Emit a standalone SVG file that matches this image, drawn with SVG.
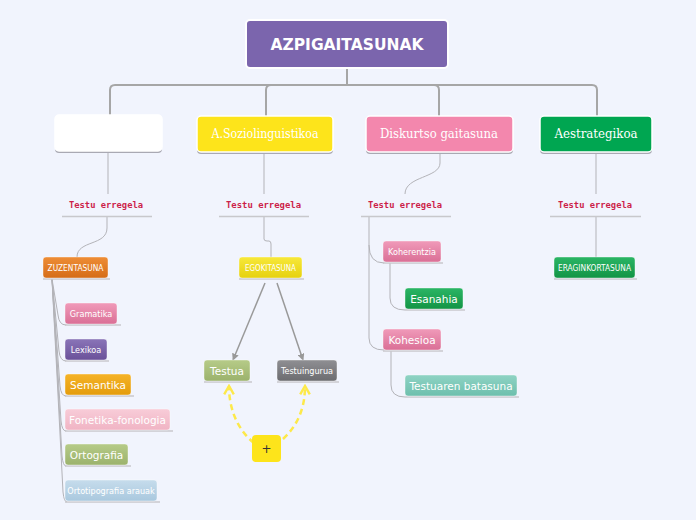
<svg xmlns="http://www.w3.org/2000/svg" width="696" height="520" viewBox="0 0 696 520">
<defs>
<style>
.main{stroke:#fff;stroke-width:1.5}
.shadow{fill:#a9a9b3}
.mt{font-family:"DejaVu Serif",serif;font-size:12px;fill:#fff;text-anchor:middle;font-stretch:condensed}
.lbl{font-family:"DejaVu Sans Mono",monospace;font-size:9px;font-weight:bold;fill:#cc1f4a}
.ul{stroke:#c8c8cc;stroke-width:1.5}
.con{fill:none;stroke:#a6a6a6;stroke-width:2}
.thin{fill:none;stroke:#b3b3b8;stroke-width:1}
.st{font-family:"DejaVu Sans",sans-serif;font-size:10.5px;fill:#fff}
.ct{font-family:"DejaVu Sans Condensed","DejaVu Sans",sans-serif;font-stretch:condensed;font-size:9px;fill:#fff}
.sub{stroke:#fff;stroke-opacity:0.5;stroke-width:0.8}
.dash{fill:none;stroke:#fde94a;stroke-width:2.5;stroke-dasharray:6 4}
</style>
<linearGradient id="gOr" x1="0" y1="0" x2="0" y2="1"><stop offset="0" stop-color="#ee8d36"/><stop offset="1" stop-color="#d56c17"/></linearGradient>
<linearGradient id="gYe" x1="0" y1="0" x2="0" y2="1"><stop offset="0" stop-color="#f7e83a"/><stop offset="1" stop-color="#e6d10f"/></linearGradient>
<linearGradient id="gPk" x1="0" y1="0" x2="0" y2="1"><stop offset="0" stop-color="#f09ab9"/><stop offset="1" stop-color="#da6f96"/></linearGradient>
<linearGradient id="gGr" x1="0" y1="0" x2="0" y2="1"><stop offset="0" stop-color="#2bb565"/><stop offset="1" stop-color="#129445"/></linearGradient>
<linearGradient id="gPu" x1="0" y1="0" x2="0" y2="1"><stop offset="0" stop-color="#8a74b8"/><stop offset="1" stop-color="#6a5199"/></linearGradient>
<linearGradient id="gSe" x1="0" y1="0" x2="0" y2="1"><stop offset="0" stop-color="#f5b328"/><stop offset="1" stop-color="#e49c0c"/></linearGradient>
<linearGradient id="gLp" x1="0" y1="0" x2="0" y2="1"><stop offset="0" stop-color="#f8ccd8"/><stop offset="1" stop-color="#f0b4c4"/></linearGradient>
<linearGradient id="gOl" x1="0" y1="0" x2="0" y2="1"><stop offset="0" stop-color="#b6cb88"/><stop offset="1" stop-color="#9bb26c"/></linearGradient>
<linearGradient id="gLb" x1="0" y1="0" x2="0" y2="1"><stop offset="0" stop-color="#c6dcec"/><stop offset="1" stop-color="#a9c8de"/></linearGradient>
<linearGradient id="gGy" x1="0" y1="0" x2="0" y2="1"><stop offset="0" stop-color="#8f8f93"/><stop offset="1" stop-color="#6c6c70"/></linearGradient>
<linearGradient id="gTe" x1="0" y1="0" x2="0" y2="1"><stop offset="0" stop-color="#8fd3c4"/><stop offset="1" stop-color="#6dbfad"/></linearGradient>
<marker id="ah" viewBox="0 0 10 10" refX="9" refY="5" markerWidth="7" markerHeight="7" orient="auto-start-reverse" markerUnits="userSpaceOnUse"><path d="M0,0 L10,5 L0,10 z" fill="#999"/></marker>
<marker id="ya" viewBox="0 0 10 10" refX="8" refY="5" markerWidth="12" markerHeight="12" orient="auto" markerUnits="userSpaceOnUse"><path d="M1,1 L8,5 L1,9" fill="none" stroke="#fde94a" stroke-width="2"/></marker>
</defs>
<rect width="696" height="520" fill="#f1f4fd"/>

<g id="connectors">
<path class="con" d="M347,68 V85 M110,116 V90 Q110,85 115,85 H592 Q597,85 597,90 V116 M266,116 V90 Q266,85 271,85 H434 Q439,85 439,90 V116"/>
<path class="thin" d="M108,152 V194"/>
<path class="thin" d="M264,152 V194"/>
<path class="thin" d="M440,152 V163 C440,178 405,176 405,194"/>
<path class="thin" d="M596,152 V194"/>
<path class="thin" d="M107,217 V228 C107,246 77,240 77,257"/>
<path class="thin" d="M264,217 V239 Q264,241 267,241 H269 Q271,241 271,244 V257"/>
<path class="thin" d="M596,217 V257"/>
<path class="thin" d="M369,217 V245 Q369,263 384,263"/>
<path class="thin" d="M369,245 V338 Q369,350 384,350"/>
<path class="thin" d="M390,263 V298 Q390,310 405,310"/>
<path class="thin" d="M391,351 V385 Q391,397 405,397"/>
<path class="thin" d="M52,279 L58,315 Q59,325 66,325"/>
<path class="thin" d="M52,279 L59,351 Q60,361 66,361"/>
<path class="thin" d="M52,279 L60,386 Q61,396 66,396"/>
<path class="thin" d="M52,279 L61,421 Q62,431 66,431"/>
<path class="thin" d="M52,279 L62,456 Q63,466 66,466"/>
<path class="thin" d="M52,279 L63,492 Q64,502 67,502"/>
<path d="M265,283 L233,360" fill="none" stroke="#999" stroke-width="1.5" marker-end="url(#ah)"/>
<path d="M277,283 L303,360" fill="none" stroke="#999" stroke-width="1.5" marker-end="url(#ah)"/>
<path class="dash" d="M254,443 C238,430 229,410 229,386" marker-end="url(#ya)"/>
<path class="dash" d="M283,439 C298,425 305,408 305,386" marker-end="url(#ya)"/>
</g>

<g id="root">
<rect x="246" y="20" width="202" height="48" rx="4" fill="#7b65ad" stroke="#fff" stroke-width="2"/>
<text x="347" y="50" font-family="'DejaVu Sans',sans-serif" font-size="15.5" font-weight="bold" fill="#fff" text-anchor="middle">AZPIGAITASUNAK</text>
</g>

<g id="blank">
<rect class="shadow" x="55" y="117" width="107" height="36" rx="4"/>
<rect class="main" x="55" y="115" width="107" height="36" rx="4" fill="#fff"/>
</g>
<g id="soziolinguistikoa">
<rect class="shadow" x="197" y="118" width="136" height="36" rx="4"/>
<rect class="main" x="197" y="116" width="136" height="36" rx="4" fill="#fde41b"/>
<text class="mt" x="265" y="138" textLength="107" lengthAdjust="spacingAndGlyphs">A.Soziolinguistikoa</text>
</g>
<g id="diskurtso">
<rect class="shadow" x="366" y="118" width="147" height="36" rx="4"/>
<rect class="main" x="366" y="116" width="147" height="36" rx="4" fill="#f387ad"/>
<text class="mt" x="439" y="138" textLength="118" lengthAdjust="spacingAndGlyphs">Diskurtso gaitasuna</text>
</g>
<g id="estrategikoa">
<rect class="shadow" x="540" y="118" width="112" height="36" rx="4"/>
<rect class="main" x="540" y="116" width="112" height="36" rx="4" fill="#00a651"/>
<text class="mt" x="596" y="138" textLength="83" lengthAdjust="spacingAndGlyphs">Aestrategikoa</text>
</g>

<g id="testu1"><text class="lbl" x="69" y="208" textLength="74" lengthAdjust="spacingAndGlyphs">Testu erregela</text><line class="ul" x1="62" y1="216.5" x2="152" y2="216.5"/></g>
<g id="testu2"><text class="lbl" x="226" y="208" textLength="75" lengthAdjust="spacingAndGlyphs">Testu erregela</text><line class="ul" x1="219" y1="216.5" x2="309" y2="216.5"/></g>
<g id="testu3"><text class="lbl" x="368" y="208" textLength="74" lengthAdjust="spacingAndGlyphs">Testu erregela</text><line class="ul" x1="361" y1="216.5" x2="451" y2="216.5"/></g>
<g id="testu4"><text class="lbl" x="558" y="208" textLength="74" lengthAdjust="spacingAndGlyphs">Testu erregela</text><line class="ul" x1="550" y1="216.5" x2="641" y2="216.5"/></g>

<g id="zuzentasuna"><line class="ul" x1="43" y1="279" x2="110" y2="279"/><rect class="sub" x="43" y="257" width="65" height="21" rx="3" fill="url(#gOr)"/><text class="ct" x="75.5" y="271" text-anchor="middle" font-size="8.5" textLength="56" lengthAdjust="spacingAndGlyphs">ZUZENTASUNA</text></g>
<g id="egokitasuna"><line class="ul" x1="239" y1="279" x2="304" y2="279"/><rect class="sub" x="239" y="257" width="63" height="21" rx="3" fill="url(#gYe)"/><text class="ct" x="270.5" y="271" text-anchor="middle" font-size="8.5" textLength="51" lengthAdjust="spacingAndGlyphs">EGOKITASUNA</text></g>
<g id="eraginkortasuna"><line class="ul" x1="554" y1="279" x2="637" y2="279"/><rect class="sub" x="554" y="257" width="81" height="21" rx="3" fill="url(#gGr)"/><text class="ct" x="594.5" y="271" text-anchor="middle" font-size="8.5" textLength="73" lengthAdjust="spacingAndGlyphs">ERAGINKORTASUNA</text></g>

<g id="koherentzia"><line class="ul" x1="383" y1="263" x2="443" y2="263"/><rect class="sub" x="383" y="241" width="58" height="21" rx="3" fill="url(#gPk)"/><text class="ct" x="412" y="255" text-anchor="middle">Koherentzia</text></g>
<g id="esanahia"><line class="ul" x1="405" y1="310" x2="465" y2="310"/><rect class="sub" x="405" y="288" width="58" height="21" rx="3" fill="url(#gGr)"/><text class="st" x="434" y="302.5" text-anchor="middle">Esanahia</text></g>
<g id="kohesioa"><line class="ul" x1="383" y1="351" x2="443" y2="351"/><rect class="sub" x="383" y="329" width="58" height="21" rx="3" fill="url(#gPk)"/><text class="st" x="412" y="343.5" text-anchor="middle">Kohesioa</text></g>
<g id="testuaren"><line class="ul" x1="405" y1="397" x2="519" y2="397"/><rect class="sub" x="405" y="375" width="112" height="21" rx="3" fill="url(#gTe)"/><text class="st" x="461" y="389.5" text-anchor="middle">Testuaren batasuna</text></g>

<g id="gramatika"><line class="ul" x1="65" y1="325" x2="121" y2="325"/><rect class="sub" x="65" y="303" width="52" height="21" rx="3" fill="url(#gPk)"/><text class="ct" x="91" y="317" text-anchor="middle">Gramatika</text></g>
<g id="lexikoa"><line class="ul" x1="65" y1="361" x2="109" y2="361"/><rect class="sub" x="65" y="339" width="42" height="21" rx="3" fill="url(#gPu)"/><text class="ct" x="86" y="353" text-anchor="middle">Lexikoa</text></g>
<g id="semantika"><line class="ul" x1="65" y1="396" x2="134" y2="396"/><rect class="sub" x="65" y="374" width="66" height="21" rx="3" fill="url(#gSe)"/><text class="st" x="98" y="388.5" text-anchor="middle">Semantika</text></g>
<g id="fonetika"><line class="ul" x1="65" y1="431" x2="173" y2="431"/><rect class="sub" x="65" y="409" width="105" height="21" rx="3" fill="url(#gLp)"/><text class="st" x="117.5" y="423.5" text-anchor="middle">Fonetika-fonologia</text></g>
<g id="ortografia"><line class="ul" x1="65" y1="466" x2="131" y2="466"/><rect class="sub" x="65" y="444" width="63" height="21" rx="3" fill="url(#gOl)"/><text class="st" x="96.5" y="458.5" text-anchor="middle">Ortografia</text></g>
<g id="ortotipografia"><line class="ul" x1="65" y1="502" x2="160" y2="502"/><rect class="sub" x="65" y="480" width="92" height="21" rx="3" fill="url(#gLb)"/><text class="ct" x="111" y="494" text-anchor="middle">Ortotipografia arauak</text></g>

<g id="testua"><line class="ul" x1="204" y1="382" x2="252" y2="382"/><rect class="sub" x="204" y="360" width="46" height="21" rx="3" fill="url(#gOl)"/><text class="st" x="227" y="374.5" text-anchor="middle">Testua</text></g>
<g id="testuingurua"><line class="ul" x1="277" y1="382" x2="339" y2="382"/><rect class="sub" x="277" y="360" width="60" height="21" rx="3" fill="url(#gGy)"/><text class="ct" x="307" y="374" text-anchor="middle">Testuingurua</text></g>
<g id="plus"><rect x="252" y="435" width="29" height="27" rx="4" fill="#fde41b"/><text x="266.5" y="453" font-family="'DejaVu Sans',sans-serif" font-size="12" fill="#333" text-anchor="middle">+</text></g>
</svg>
